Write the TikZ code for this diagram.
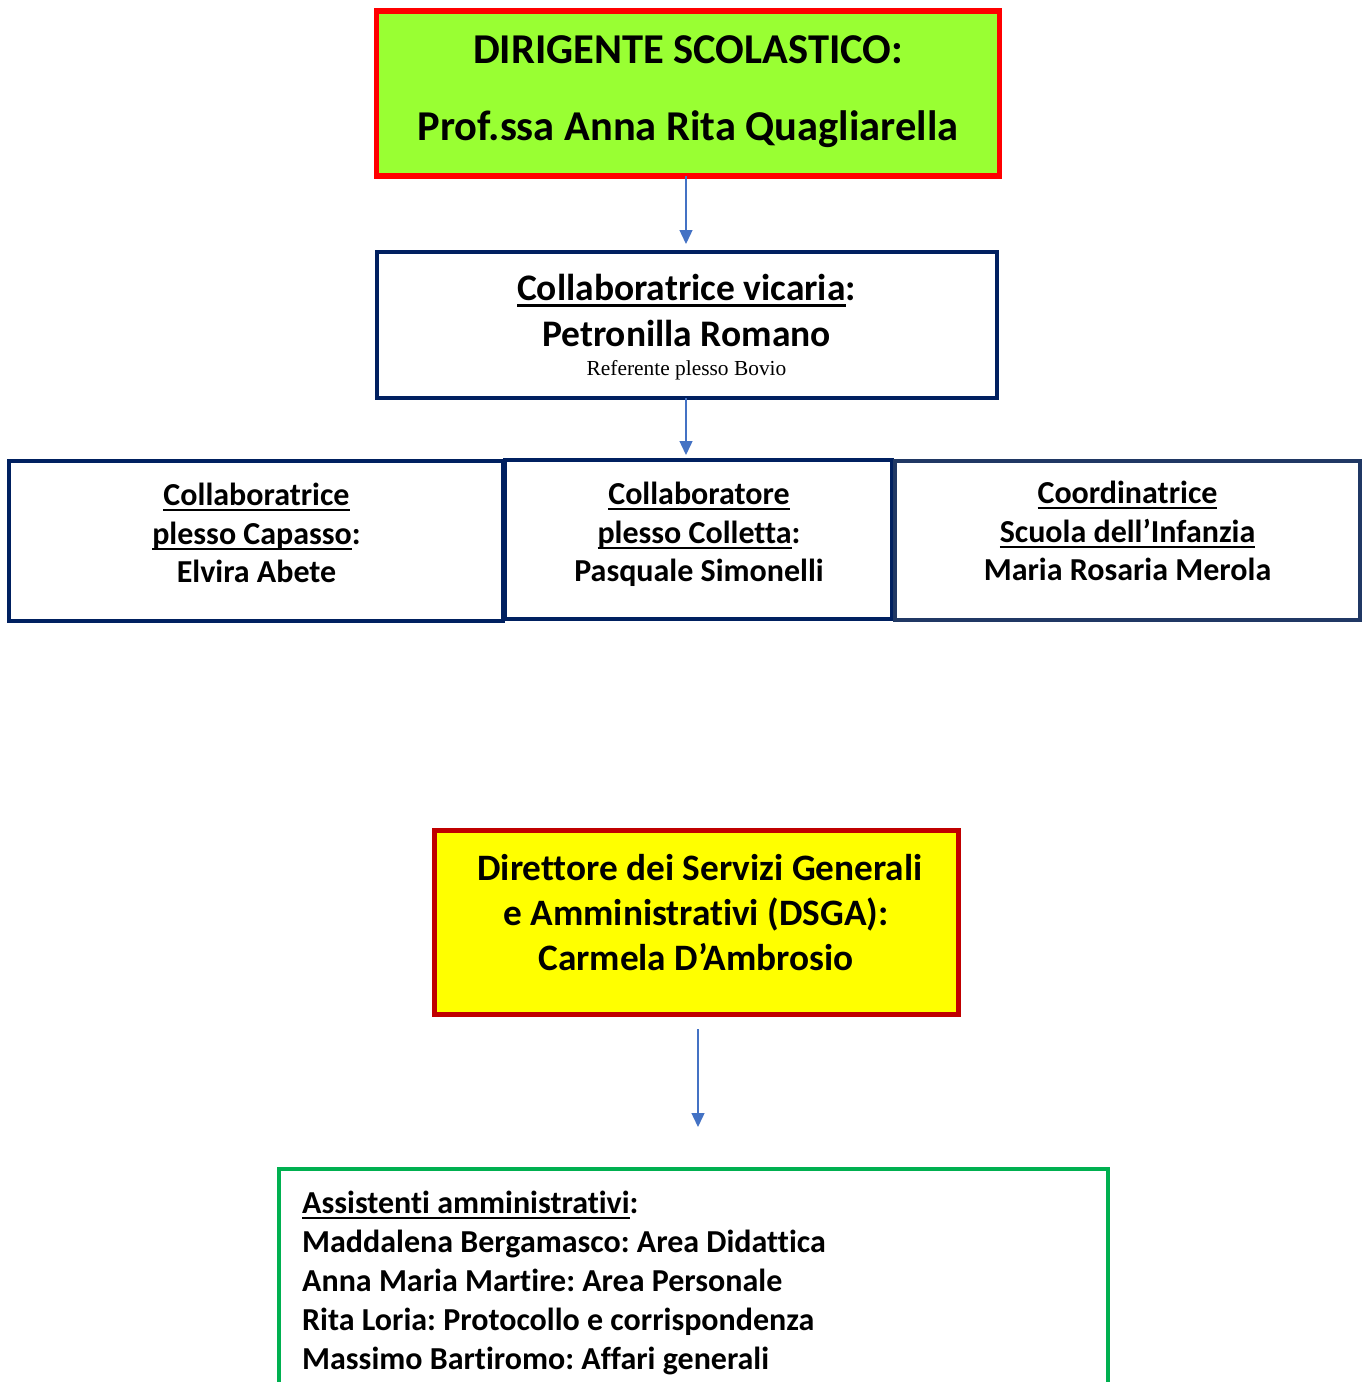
\documentclass[tikz,border=0pt]{standalone}
\usepackage{fontspec}
\setmainfont{Carlito}[Ligatures=CommonOff]
\newfontfamily\tnr{Liberation Serif}
\usetikzlibrary{arrows.meta}
\definecolor{limefill}{HTML}{99FF33}
\definecolor{redline}{HTML}{FF0000}
\definecolor{navy}{HTML}{002060}
\definecolor{navyb}{HTML}{203864}
\definecolor{darkred}{HTML}{C00000}
\definecolor{yel}{HTML}{FFFF00}
\definecolor{grn}{HTML}{00B050}
\definecolor{arrblue}{HTML}{4472C4}
\newsavebox\ulbox
\newcommand\ulx[1]{\sbox\ulbox{#1}\rlap{\smash{\rule[-0.19em]{\wd\ulbox}{0.08em}}}\usebox\ulbox}
\newcommand\fs[1]{\fontsize{#1}{#1}\selectfont\frenchspacing}
\begin{document}
\begin{tikzpicture}[x=1pt,y=-1pt,
  box/.style={rectangle,draw,inner sep=0pt,outer sep=0pt},
  txt/.style={inner sep=0pt,anchor=base,font=\bfseries},
  arr/.style={draw=arrblue,line width=1.4pt,-{Triangle[width=13pt,length=14pt]}}]
\useasboundingbox (0,0) rectangle (1367,1382);
% boxes
\node[box,draw=redline,fill=limefill,line width=5.5pt,minimum width=623pt,minimum height=165pt] (top) at (688,93.5) {};
\node[box,draw=navy,line width=4.5pt,minimum width=620pt,minimum height=146pt] (vic) at (687,325) {};
\node[box,draw=navy,line width=4.5pt,minimum width=494pt,minimum height=160pt] (capa) at (256,541) {};
\node[box,draw=navy,line width=4.5pt,minimum width=387pt,minimum height=159pt] (coll) at (698.5,539.5) {};
\node[box,draw=navyb,line width=4.5pt,minimum width=465pt,minimum height=159pt] (inf) at (1127.5,540.5) {};
\node[box,draw=darkred,fill=yel,line width=5pt,minimum width=524pt,minimum height=184pt] (dsga) at (696,922) {};
\node[box,draw=grn,line width=4.5pt,minimum width=829pt,minimum height=260pt] (ass) at (693.5,1299) {};
% arrows
\draw[arr] (top.south -| 686,0) -- ([yshift=8pt]vic.north -| 686,0);
\draw[arr] (vic.south -| 686,0) -- ([yshift=5pt]coll.north -| 686,0);
\draw[arr,shorten <=15pt,shorten >=42pt] (dsga.south -| 698,0) -- (ass.north -| 698,0);
% texts
\node[txt,font=\bfseries\fs{42.5}] (t1) at (688,63) {DIRIGENTE SCOLASTICO:};
\node[txt,font=\bfseries\fs{42.5}] (t2) at (688,140) {Prof.ssa Anna Rita Quagliarella};
\node[txt,font=\bfseries\fs{37.5}] (v1) at (686.5,300) {\ulx{Collaboratrice vicaria}:};
\node[txt,font=\bfseries\fs{37.5}] (v2) at (686.5,346) {Petronilla Romano};
\node[txt,font=\tnr\fs{21.4}] (v3) at (686.5,375) {Referente plesso Bovio};
\node[txt,font=\bfseries\fs{32}] (a1) at (256.5,505) {\ulx{Collaboratrice}};
\node[txt,font=\bfseries\fs{32}] (a2) at (256.5,544) {\ulx{plesso Capasso}:};
\node[txt,font=\bfseries\fs{32}] (a3) at (256.5,582) {Elvira Abete};
\node[txt,font=\bfseries\fs{32}] (b1) at (699,504) {\ulx{Collaboratore}};
\node[txt,font=\bfseries\fs{32}] (b2) at (699,543) {\ulx{plesso Colletta}:};
\node[txt,font=\bfseries\fs{32}] (b3) at (699,581) {Pasquale Simonelli};
\node[txt,font=\bfseries\fs{32}] (c1) at (1127.5,503) {\ulx{Coordinatrice}};
\node[txt,font=\bfseries\fs{32}] (c2) at (1127.5,542) {\ulx{Scuola dell’Infanzia}};
\node[txt,font=\bfseries\fs{32}] (c3) at (1127.5,580) {Maria Rosaria Merola};
\node[txt,font=\bfseries\fs{37.3}] (d1) at (700,880) {Direttore dei Servizi Generali};
\node[txt,font=\bfseries\fs{37.3}] (d2) at (696,925) {e Amministrativi (DSGA):};
\node[txt,font=\bfseries\fs{37.3}] (d3) at (696,970) {Carmela D’Ambrosio};
\node[txt,anchor=base west,font=\bfseries\fs{32}] (g1) at (302,1213) {\ulx{Assistenti amministrativi}:};
\node[txt,anchor=base west,font=\bfseries\fs{32}] (g2) at (302,1252) {Maddalena Bergamasco: Area Didattica};
\node[txt,anchor=base west,font=\bfseries\fs{32}] (g3) at (302,1291) {Anna Maria Martire: Area Personale};
\node[txt,anchor=base west,font=\bfseries\fs{32}] (g4) at (302,1330) {Rita Loria: Protocollo e corrispondenza};
\node[txt,anchor=base west,font=\bfseries\fs{32}] (g5) at (302,1369) {Massimo Bartiromo: Affari generali};
\end{tikzpicture}
\end{document}
